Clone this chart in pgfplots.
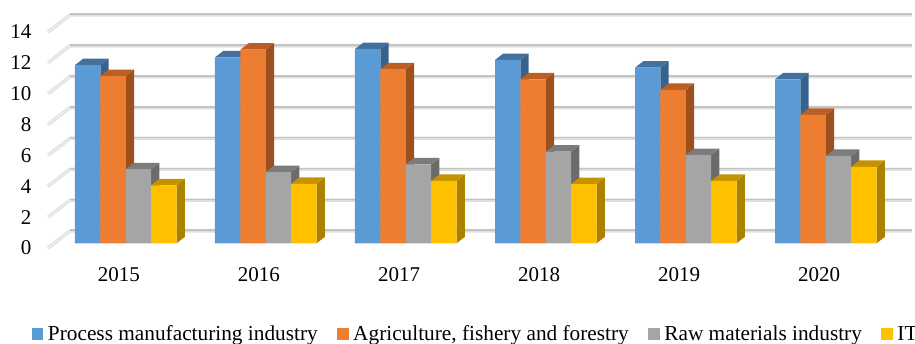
\documentclass[border=0pt]{standalone}
\usepackage{pgfplots}
\usepackage{pgfplotstable}
\usepackage{fontspec}
\setmainfont{Liberation Serif}
\pgfplotsset{compat=1.18}
\definecolor{cA}{HTML}{5B9BD5}\definecolor{cAs}{HTML}{38628E}\definecolor{cAt}{HTML}{41719C}
\definecolor{cB}{HTML}{ED7D31}\definecolor{cBs}{HTML}{9E4F1E}\definecolor{cBt}{HTML}{BC5F24}
\definecolor{cC}{HTML}{A5A5A5}\definecolor{cCs}{HTML}{6B6B6B}\definecolor{cCt}{HTML}{7C7C7C}
\definecolor{cD}{HTML}{FFC000}\definecolor{cDs}{HTML}{AB8200}\definecolor{cDt}{HTML}{C49400}
\definecolor{gridc}{HTML}{C4C4C4}\definecolor{gridl}{HTML}{DEDEDE}\definecolor{gridw}{HTML}{F2F2F2}
\pgfplotstableread{
x y
0 11.55
1 12.05
2 12.59
3 11.88
4 11.38
5 10.63
}\tblA
\pgfplotstableread{
x y
0 10.84
1 12.55
2 11.28
3 10.63
4 9.94
5 8.33
}\tblB
\pgfplotstableread{
x y
0 4.80
1 4.62
2 5.12
3 5.94
4 5.72
5 5.66
}\tblC
\pgfplotstableread{
x y
0 3.76
1 3.85
2 4.04
3 3.84
4 4.04
5 4.96
}\tblD
\def\bw{0.1814}\def\dx{0.0593}\def\dy{0.42}
\newcommand\faces[4]{%
 \pgfplotsforeachungrouped \i in {0,...,5}{%
  \pgfplotstablegetelem{\i}{y}\of{#1}\let\v\pgfplotsretval
  \pgfmathsetmacro\xl{\i+#2-\bw/2}\pgfmathsetmacro\xr{\xl+\bw}%
  \pgfmathsetmacro\xld{\xl+\dx}\pgfmathsetmacro\xrd{\xr+\dx}%
  \pgfmathsetmacro\vd{\v+\dy}%
  \edef\temp{\noexpand\addplot[forget plot,no marks,draw=none,fill=#3] coordinates {(\xr,0)(\xrd,\dy)(\xrd,\vd)(\xr,\v)(\xr,0)};%
   \noexpand\addplot[forget plot,no marks,draw=none,fill=#4] coordinates {(\xl,\v)(\xld,\vd)(\xrd,\vd)(\xr,\v)(\xl,\v)};}\temp
 }}
\newcommand\gridl[1]{%
 \pgfmathsetmacro\a{#1-0.305}\pgfmathsetmacro\b{#1+0.797}\pgfmathsetmacro\c{#1+0.85}%
 \edef\temp{\noexpand\addplot[forget plot,no marks,line width=3.4pt,color=gridl] coordinates {(-0.5071,\a)(-0.35,\b)(5.664,\b)};%
 \noexpand\addplot[forget plot,no marks,line width=1.6pt,color=gridc] coordinates {(-0.35,\c)(5.664,\c)};%
 \noexpand\addplot[forget plot,no marks,line width=1pt,color=gridw] coordinates {(-0.5071,\a)(-0.35,\b)};}\temp}
\begin{document}
\begin{tikzpicture}[x=1pt,y=1pt]
\path[use as bounding box] (0,0) rectangle (915,343);
\begin{axis}[
  at={(48pt,95pt)},anchor=south west,
  scale only axis,width=867pt,height=248pt,
  xmin=-0.5071,xmax=5.6857,ymin=-0.305,ymax=15.768,
  clip=false,
  axis line style={draw=none},
  major tick length=0pt,
  /pgf/number format/assume math mode=true,
  tick label style={font=\fontsize{21}{24}\selectfont},
  xtick={0,1,2,3,4,5},
  xticklabels={2015,2016,2017,2018,2019,2020},
  xticklabel style={yshift=-16pt},
  ytick={-0.305,1.695,3.695,5.695,7.695,9.695,11.695,13.695},
  yticklabels={0,2,4,6,8,10,12,14},
  yticklabel style={xshift=-13pt},
  legend columns=4,
  legend style={draw=none,fill=none,at={(axis cs:-0.5071,-5.87)},anchor=west,
    font=\fontsize{21.3}{24}\selectfont,inner sep=0pt,outer sep=0pt,xshift=-16pt,
    /tikz/every odd column/.style={column sep=2.5pt},
    /tikz/every even column/.style={column sep=17.5pt}},
  legend image code/.code={\fill[#1,draw=none] (0pt,-5.75pt) rectangle (11.5pt,5.75pt);},
]
\gridl{0}\gridl{2}\gridl{4}\gridl{6}\gridl{8}\gridl{10}\gridl{12}\gridl{14}
\faces{\tblA}{-0.2236}{cAs}{cAt}
\faces{\tblB}{-0.0422}{cBs}{cBt}
\faces{\tblC}{0.1392}{cCs}{cCt}
\faces{\tblD}{0.3206}{cDs}{cDt}
\addplot[ybar,bar width=0.1814,bar shift=-0.2236,fill=cA,draw=none] table[x=x,y=y] {\tblA};
\addlegendentry{Process manufacturing industry}
\addplot[ybar,bar width=0.1814,bar shift=-0.0422,fill=cB,draw=none] table[x=x,y=y] {\tblB};
\addlegendentry{Agriculture, fishery and forestry}
\addplot[ybar,bar width=0.1814,bar shift=0.1392,fill=cC,draw=none] table[x=x,y=y] {\tblC};
\addlegendentry{Raw materials industry}
\addplot[ybar,bar width=0.1814,bar shift=0.3206,fill=cD,draw=none] table[x=x,y=y] {\tblD};
\addlegendentry{IT}
\end{axis}
\end{tikzpicture}
\end{document}
